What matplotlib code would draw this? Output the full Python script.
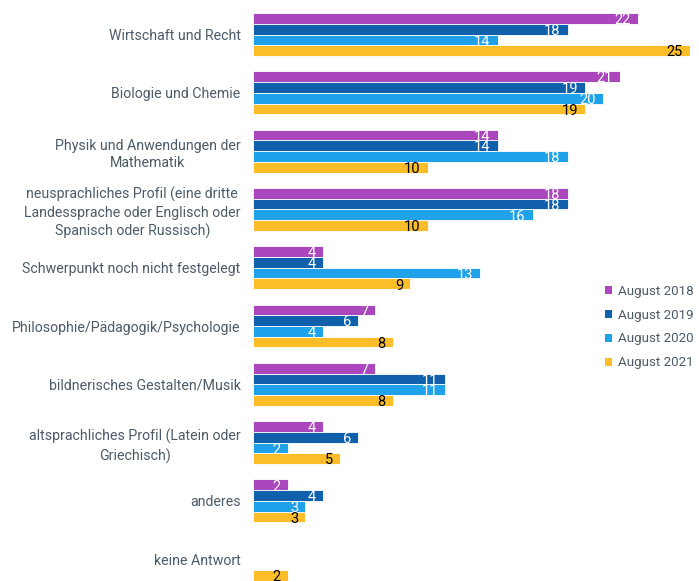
import numpy as np
import matplotlib.pyplot as plt
from matplotlib.patches import Patch

plt.rcParams['font.family'] = ['Roboto', 'DejaVu Sans']

categories = [
    "Wirtschaft und Recht",
    "Biologie und Chemie",
    "Physik und Anwendungen der\nMathematik",
    "neusprachliches Profil (eine dritte\nLandessprache oder Englisch oder\nSpanisch oder Russisch)",
    "Schwerpunkt noch nicht festgelegt",
    "Philosophie/Pädagogik/Psychologie",
    "bildnerisches Gestalten/Musik",
    "altsprachliches Profil (Latein oder\nGriechisch)",
    "anderes",
    "keine Antwort",
]
series_names = ["August 2018", "August 2019", "August 2020", "August 2021"]
aug_2018 = [22, 21, 14, 18, 4, 7, 7, 4, 2, 0]
aug_2019 = [18, 19, 14, 18, 4, 6, 11, 6, 4, 0]
aug_2020 = [14, 20, 18, 16, 13, 4, 11, 2, 3, 0]
aug_2021 = [25, 19, 10, 10, 9, 8, 8, 5, 3, 2]

colors = ["#AB47BC", "#1060AC", "#20A2EA", "#FBBE29"]
label_colors = ["white", "white", "white", "black"]
text_grey = "#4D5B69"

fig = plt.figure(figsize=(6.99, 5.81), dpi=100)
ax = fig.add_axes([253 / 699, 0, 437 / 699, 1])

y = np.arange(len(categories))
h = 0.184
for j, vals in enumerate([aug_2018, aug_2019, aug_2020, aug_2021]):
    pos = y + (j - 1.5) * h
    ax.barh(pos, vals, height=h, color=colors[j], edgecolor="white", linewidth=0.6)
    for p, v in zip(pos, vals):
        if v > 0:
            ax.text(v - 0.4, p + 0.03, str(v), ha="right", va="center",
                    color=label_colors[j], fontsize=10.5)

ax.set_xlim(0, 25)
ax.set_ylim(9.374, -0.592)
ax.set_yticks(y)
ax.set_yticklabels(categories, fontsize=10.2, color=text_grey, linespacing=1.33,
                   multialignment="center")
ax.tick_params(axis="y", length=0, pad=9)
ax.set_xticks([])
for s in ax.spines.values():
    s.set_visible(False)

handles = [Patch(facecolor=c, edgecolor="none") for c in colors]
leg = fig.legend(handles, series_names, loc="center left",
                 bbox_to_anchor=(605 / 699, 1 - 327 / 581), frameon=False,
                 fontsize=9.6, handlelength=0.55, handleheight=0.55,
                 handletextpad=0.45, labelspacing=0.82,
                 borderpad=0, borderaxespad=0)
for t in leg.get_texts():
    t.set_color(text_grey)

fig.savefig("out.png", dpi=100)
